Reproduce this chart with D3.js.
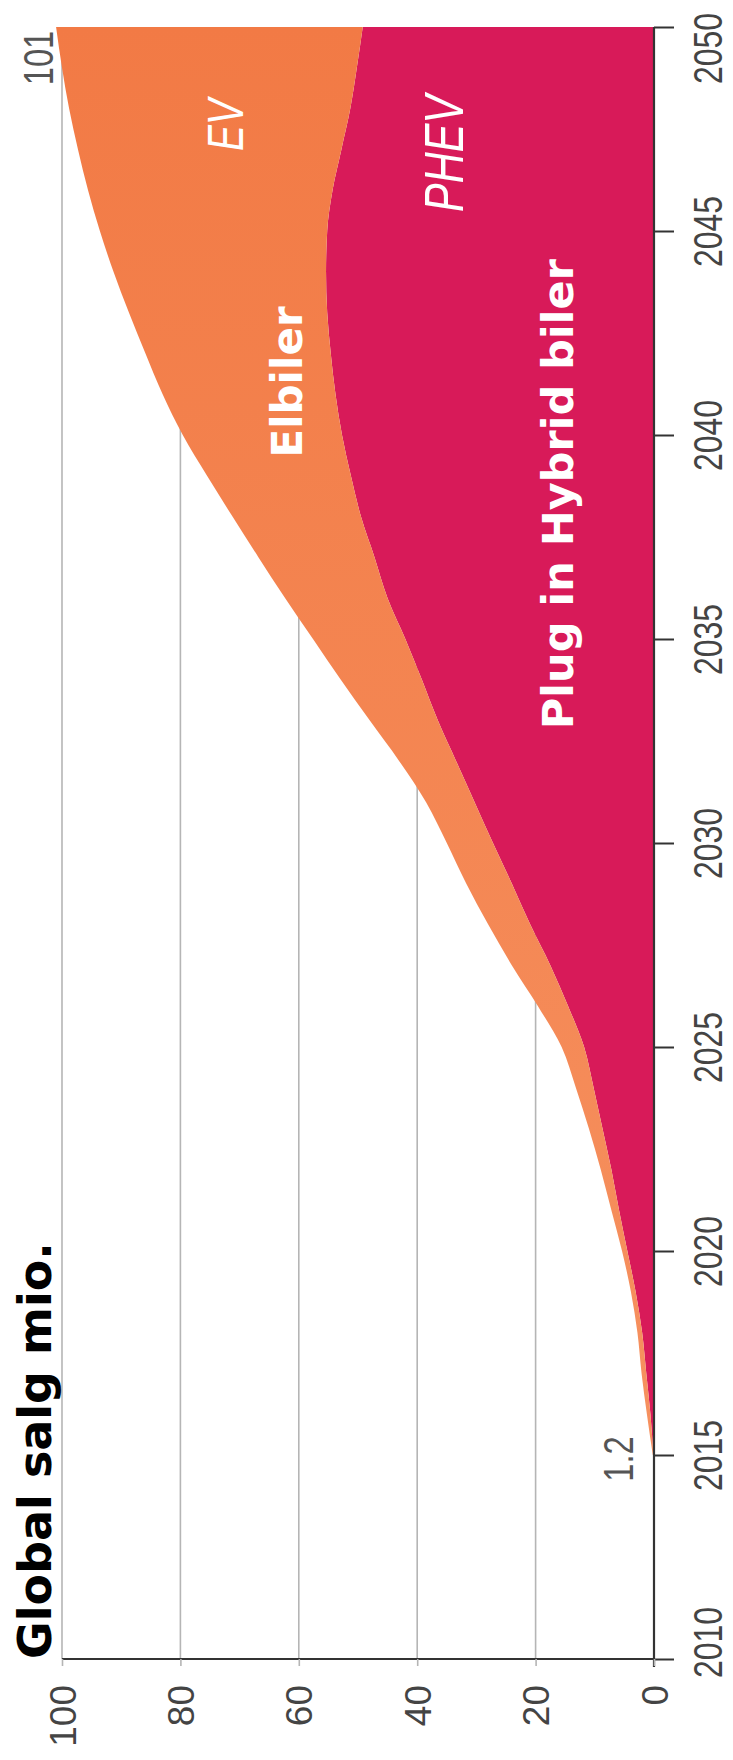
<!DOCTYPE html>
<html>
<head>
<meta charset="utf-8">
<script src="https://cdn.jsdelivr.net/npm/d3@7"></script>
<style>
  html, body { margin: 0; padding: 0; background: #fff; }
  svg { display: block; }
</style>
</head>
<body>
<script>
// data (mio. cars sold per year)
const years = d3.range(2015, 2051);
const phev = [0.1, 0.6, 1.3, 2.0, 3.1, 4.5, 5.9, 7.2, 8.7, 10.2,
              11.8, 14.5, 17.5, 20.9, 24.0, 27.2, 30.3, 33.4, 36.5, 39.2,
              42.0, 45.0, 47.2, 49.5, 51.2, 52.7, 53.8, 54.6, 55.2, 55.4,
              55.2, 54.3, 52.8, 51.3, 50.2, 49.2];
const ev = [0.1, 0.6, 0.8, 0.8, 0.8, 0.9, 1.3, 1.8, 2.3, 3.0,
            3.8, 5.1, 6.5, 7.1, 7.7, 7.8, 8.2, 9.6, 11.5, 13.7,
            15.6, 17.3, 19.6, 21.7, 24.3, 26.9, 29.2, 31.3, 33.5, 35.9,
            38.4, 41.3, 44.5, 47.5, 49.8, 51.8];
const yearTicks = [2010, 2015, 2020, 2025, 2030, 2035, 2040, 2045, 2050];
const valueTicks = [0, 20, 40, 60, 80, 100];
const notes = [{year: 2015, text: "1.2"}, {year: 2050, text: "101"}];

const width = 733, height = 1760;
const sans = "'Liberation Sans', Arial, sans-serif";
const bold = "'DejaVu Sans', Verdana, sans-serif";
// the source uses a condensed face; squeeze Liberation Sans along the text
const squeeze = " scale(0.78,1)";

const svg = d3.select("body").append("svg")
    .attr("width", width)
    .attr("height", height);

// chart is turned a quarter: years run upwards, values run leftwards
const y = d3.scaleLinear().domain([2010, 2050]).range([1659, 27]);
const x = d3.scaleLinear().domain([0, 100]).range([654, 62]);

const grad = svg.append("defs").append("linearGradient")
    .attr("id", "evfill")
    .attr("x1", 0).attr("y1", 0).attr("x2", 0).attr("y2", 1);
grad.append("stop").attr("offset", "0%").attr("stop-color", "#f27a45");
grad.append("stop").attr("offset", "100%").attr("stop-color", "#f6915f");

// grid lines
svg.append("g").selectAll("line").data(valueTicks.filter(d => d > 0)).enter()
    .append("line")
    .attr("x1", d => x(d)).attr("x2", d => x(d))
    .attr("y1", y(2010)).attr("y2", y(2050) + 3)
    .attr("stroke", "#b5b5b5")
    .attr("stroke-width", 1.6);

const rows = years.map((yr, i) => ({year: yr, phev: phev[i], ev: ev[i]}));
const stacked = d3.stack().keys(["phev", "ev"])(rows);
const colors = {phev: "#d81a59", ev: "url(#evfill)"};

const area = d3.area()
    .y(d => y(d.data.year))
    .x0(d => x(d[0]))
    .x1(d => x(d[1]))
    .curve(d3.curveMonotoneY);

svg.append("g").selectAll("path").data(stacked).enter()
    .append("path")
    .attr("d", area)
    .attr("fill", d => colors[d.key]);

// year axis (right side)
const yearAxis = svg.append("g")
    .attr("transform", "translate(" + x(0) + ",0)")
    .call(d3.axisRight(y).tickValues(yearTicks).tickSize(20).tickFormat(d3.format("d")));
yearAxis.select(".domain").attr("stroke", "#333").attr("stroke-width", 2.2)
    .attr("d", "M0," + (y(2050)) + "V" + (y(2010) + 8));
yearAxis.selectAll(".tick line").attr("stroke", "#333").attr("stroke-width", 2);
// end labels are nudged inwards so they stay on the page
const nudge = d => d === 2050 ? 21 : d === 2010 ? -17 : 0;
yearAxis.selectAll(".tick text")
    .attr("x", null).attr("dy", null)
    .attr("transform", d => "translate(68," + nudge(d) + ") rotate(-90)" + squeeze)
    .attr("text-anchor", "middle")
    .attr("fill", "#444")
    .style("font-family", sans)
    .style("font-size", "41px");

// value axis (bottom)
const valueAxis = svg.append("g")
    .attr("transform", "translate(0," + y(2010) + ")")
    .call(d3.axisBottom(x).tickValues(valueTicks).tickSize(7).tickFormat(d3.format("d")));
valueAxis.select(".domain").attr("stroke", "#333").attr("stroke-width", 2.2)
    .attr("d", "M" + x(100) + ",0H" + x(0));
valueAxis.selectAll(".tick line").attr("stroke", "#b5b5b5").attr("stroke-width", 1.6);
valueAxis.selectAll(".tick text")
    .attr("y", null).attr("dy", null)
    .attr("transform", "translate(13,26) rotate(-90)")
    .attr("text-anchor", "end")
    .attr("fill", "#444")
    .style("font-family", sans)
    .style("font-size", "37px");

// title
svg.append("text")
    .attr("transform", "translate(51," + y(2010) + ") rotate(-90)")
    .attr("text-anchor", "start")
    .style("font-family", bold)
    .style("font-weight", "bold")
    .style("font-size", "46px")
    .attr("fill", "#000")
    .text("Global salg mio.");

// value notes
svg.append("g").selectAll("text").data(notes).enter()
    .append("text")
    .attr("transform", d => (d.year === 2015
        ? "translate(633," + (y(d.year) + 4) + ") rotate(-90)"
        : "translate(53," + (y(d.year) + 31) + ") rotate(-90)") + squeeze)
    .attr("text-anchor", "middle")
    .attr("fill", "#555")
    .style("font-family", sans)
    .style("font-size", "42px")
    .text(d => d.text);

// area labels
const labels = [
  {text: "EV", year: 2047.6, v: 69.4, italic: true, size: 50},
  {text: "PHEV", year: 2046.9, v: 32.3, italic: true, size: 55},
  {text: "Elbiler", year: 2041.3, v: 59.5, italic: false, size: 42},
  {text: "Plug in Hybrid biler", year: 2038.55, v: 13.7, italic: false, size: 43}
];
svg.append("g").selectAll("text").data(labels).enter()
    .append("text")
    .attr("transform", d => "translate(" + x(d.v) + "," + y(d.year) + ") rotate(-90)" + (d.italic ? squeeze : ""))
    .attr("text-anchor", "middle")
    .attr("fill", "#fff")
    .style("font-family", d => d.italic ? sans : bold)
    .style("font-style", d => d.italic ? "italic" : "normal")
    .style("font-weight", d => d.italic ? "normal" : "bold")
    .style("font-size", d => d.size + "px")
    .text(d => d.text);
</script>
</body>
</html>
